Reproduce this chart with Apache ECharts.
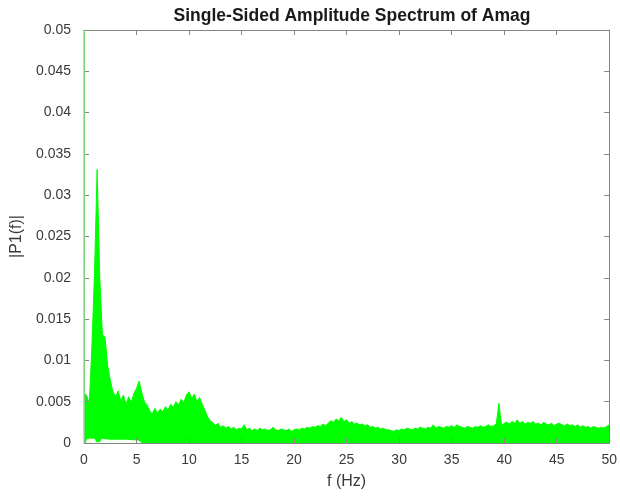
<!DOCTYPE html>
<html>
<head>
<meta charset="utf-8">
<script src="https://cdn.jsdelivr.net/npm/echarts@6/dist/echarts.min.js"></script>
<style>
  html, body { margin: 0; padding: 0; background: #fff; }
  #chart { width: 620px; height: 500px; }
</style>
</head>
<body>
<div id="chart"></div>
<script>
// frequency bins: 0 .. 50 Hz, 0.25 Hz apart
var binStep = 0.25;

// |P1(f)| upper envelope, one row per Hz (4 bins)
var amp = [
  0.0060,
  0.0058, 0.0047, 0.0116, 0.0205,   // 0
  0.0331, 0.0200, 0.0131, 0.0128,   // 1
  0.0094, 0.0076, 0.0062, 0.0056,   // 2
  0.0063, 0.0051, 0.0058, 0.0047,   // 3
  0.0056, 0.0049, 0.0060, 0.0066,   // 4
  0.0075, 0.0061, 0.0050, 0.0046,   // 5
  0.0039, 0.0035, 0.0042, 0.0036,   // 6
  0.0041, 0.0038, 0.0044, 0.0040,   // 7
  0.0047, 0.0043, 0.0050, 0.0046,   // 8
  0.0053, 0.0049, 0.0058, 0.0062,   // 9
  0.0054, 0.0059, 0.0050, 0.0055,   // 10
  0.0047, 0.0040, 0.0032, 0.0027,   // 11
  0.0025, 0.0021, 0.0024, 0.0019,   // 12
  0.0021, 0.0018, 0.0020, 0.0017,   // 13
  0.0019, 0.0016, 0.0018, 0.0017,   // 14
  0.0022, 0.0016, 0.0018, 0.0015,   // 15
  0.0017, 0.0015, 0.0018, 0.0016,   // 16
  0.0017, 0.0015, 0.0016, 0.0019,   // 17
  0.0016, 0.0015, 0.0017, 0.0016,   // 18
  0.0015, 0.0017, 0.0014, 0.0016,   // 19
  0.0017, 0.0016, 0.0018, 0.0017,   // 20
  0.0019, 0.0018, 0.0020, 0.0019,   // 21
  0.0021, 0.0020, 0.0023, 0.0021,   // 22
  0.0024, 0.0027, 0.0025, 0.0029,   // 23
  0.0027, 0.0031, 0.0026, 0.0028,   // 24
  0.0024, 0.0026, 0.0023, 0.0024,   // 25
  0.0022, 0.0023, 0.0021, 0.0022,   // 26
  0.0019, 0.0020, 0.0018, 0.0019,   // 27
  0.0017, 0.0018, 0.0016, 0.0016,   // 28
  0.0015, 0.0014, 0.0016, 0.0015,   // 29
  0.0017, 0.0016, 0.0018, 0.0017,   // 30
  0.0016, 0.0018, 0.0017, 0.0019,   // 31
  0.0018, 0.0017, 0.0019, 0.0018,   // 32
  0.0022, 0.0018, 0.0020, 0.0019,   // 33
  0.0018, 0.0020, 0.0019, 0.0021,   // 34
  0.0019, 0.0022, 0.0020, 0.0019,   // 35
  0.0018, 0.0020, 0.0019, 0.0018,   // 36
  0.0020, 0.0019, 0.0021, 0.0019,   // 37
  0.0020, 0.0022, 0.0020, 0.0021,   // 38
  0.0023, 0.0048, 0.0021, 0.0024,   // 39
  0.0025, 0.0023, 0.0026, 0.0024,   // 40
  0.0028, 0.0024, 0.0026, 0.0023,   // 41
  0.0025, 0.0024, 0.0026, 0.0023,   // 42
  0.0024, 0.0022, 0.0025, 0.0023,   // 43
  0.0022, 0.0024, 0.0021, 0.0023,   // 44
  0.0024, 0.0022, 0.0021, 0.0023,   // 45
  0.0021, 0.0022, 0.0020, 0.0022,   // 46
  0.0019, 0.0021, 0.0019, 0.0020,   // 47
  0.0018, 0.0020, 0.0019, 0.0018,   // 48
  0.0019, 0.0018, 0.0020, 0.0022    // 49
];

// DC bin, clipped at the top of the axes
var dcFreq = [0, 0];
var dcAmp = [0, 0.05];

// lowest points of the trace near 0-5 Hz (thin white gap above the axis)
var floorFreq = [0.15, 0.3, 1.0, 1.2, 1.5, 1.7, 2.5, 4.0, 5.2, 5.5];
var floorAmp = [0, 0.0005, 0.0005, 0.0001, 0.0001, 0.0005, 0.0004, 0.0004, 0.0003, 0];

var xTicks = { min: 0, max: 50, interval: 5 };
var yTicks = { min: 0, max: 0.05, interval: 0.005 };

var spec = [];
for (var i = 0; i < amp.length; i++) {
  spec.push([i * binStep, amp[i]]);
}
var dc = [];
for (var i = 0; i < dcFreq.length; i++) dc.push([dcFreq[i], dcAmp[i]]);
var floor = [];
for (var i = 0; i < floorFreq.length; i++) floor.push([floorFreq[i], floorAmp[i]]);

var chart = echarts.init(document.getElementById('chart'), null, { renderer: 'canvas' });

var lineCol = '#858585';
var txtCol = '#3a3a3a';
var font = 'Liberation Sans, Arial, Helvetica, sans-serif';

// box axes: same look, ticks pointing into the plot
function boxAxis(type, pos, ticks, extra) {
  var ax = {
    type: 'value',
    position: pos,
    min: ticks.min, max: ticks.max, interval: ticks.interval,
    z: 10,
    axisLine: { show: true, onZero: false, lineStyle: { color: lineCol, width: 1 } },
    axisTick: { show: true, inside: true, length: 5, lineStyle: { color: lineCol } },
    axisLabel: { show: false },
    splitLine: { show: false }
  };
  for (var k in extra) ax[k] = extra[k];
  return ax;
}

chart.setOption({
  animation: false,
  backgroundColor: '#ffffff',
  textStyle: { fontFamily: font },
  title: {
    text: 'Single-Sided Amplitude Spectrum of Amag',
    left: 347,
    top: 2,
    textAlign: 'center',
    textStyle: { fontSize: 17.5, fontWeight: 'bold', color: '#1a1a1a', fontFamily: font }
  },
  grid: { left: 84, right: 10, top: 30, bottom: 57 },
  xAxis: [
    boxAxis('x', 'bottom', xTicks, {
      name: 'f (Hz)',
      nameLocation: 'middle',
      nameGap: 31,
      nameTextStyle: { fontSize: 16, color: txtCol, fontFamily: font },
      axisLabel: { fontSize: 14, color: txtCol, margin: 10, fontFamily: font }
    }),
    boxAxis('x', 'top', xTicks, {})
  ],
  yAxis: [
    boxAxis('y', 'left', yTicks, {
      name: '|P1(f)|',
      nameLocation: 'middle',
      nameGap: 55,
      nameTextStyle: { fontSize: 16, color: txtCol, fontFamily: font },
      axisLabel: { fontSize: 14, color: txtCol, margin: 13, fontFamily: font }
    }),
    boxAxis('y', 'right', yTicks, {})
  ],
  series: [{
    name: 'P1',
    type: 'line',
    data: spec,
    symbol: 'none',
    lineStyle: { color: '#00ff00', width: 1 },
    areaStyle: { color: '#00ff00', opacity: 1 },
    z: 2
  }, {
    name: 'floor',
    type: 'line',
    data: floor,
    symbol: 'none',
    lineStyle: { width: 0 },
    areaStyle: { color: '#f4fff4', opacity: 1 },
    z: 3
  }, {
    name: 'DC',
    type: 'line',
    data: dc,
    symbol: 'none',
    lineStyle: { color: '#7af07a', width: 1.5 },
    z: 12
  }]
});
</script>
</body>
</html>
